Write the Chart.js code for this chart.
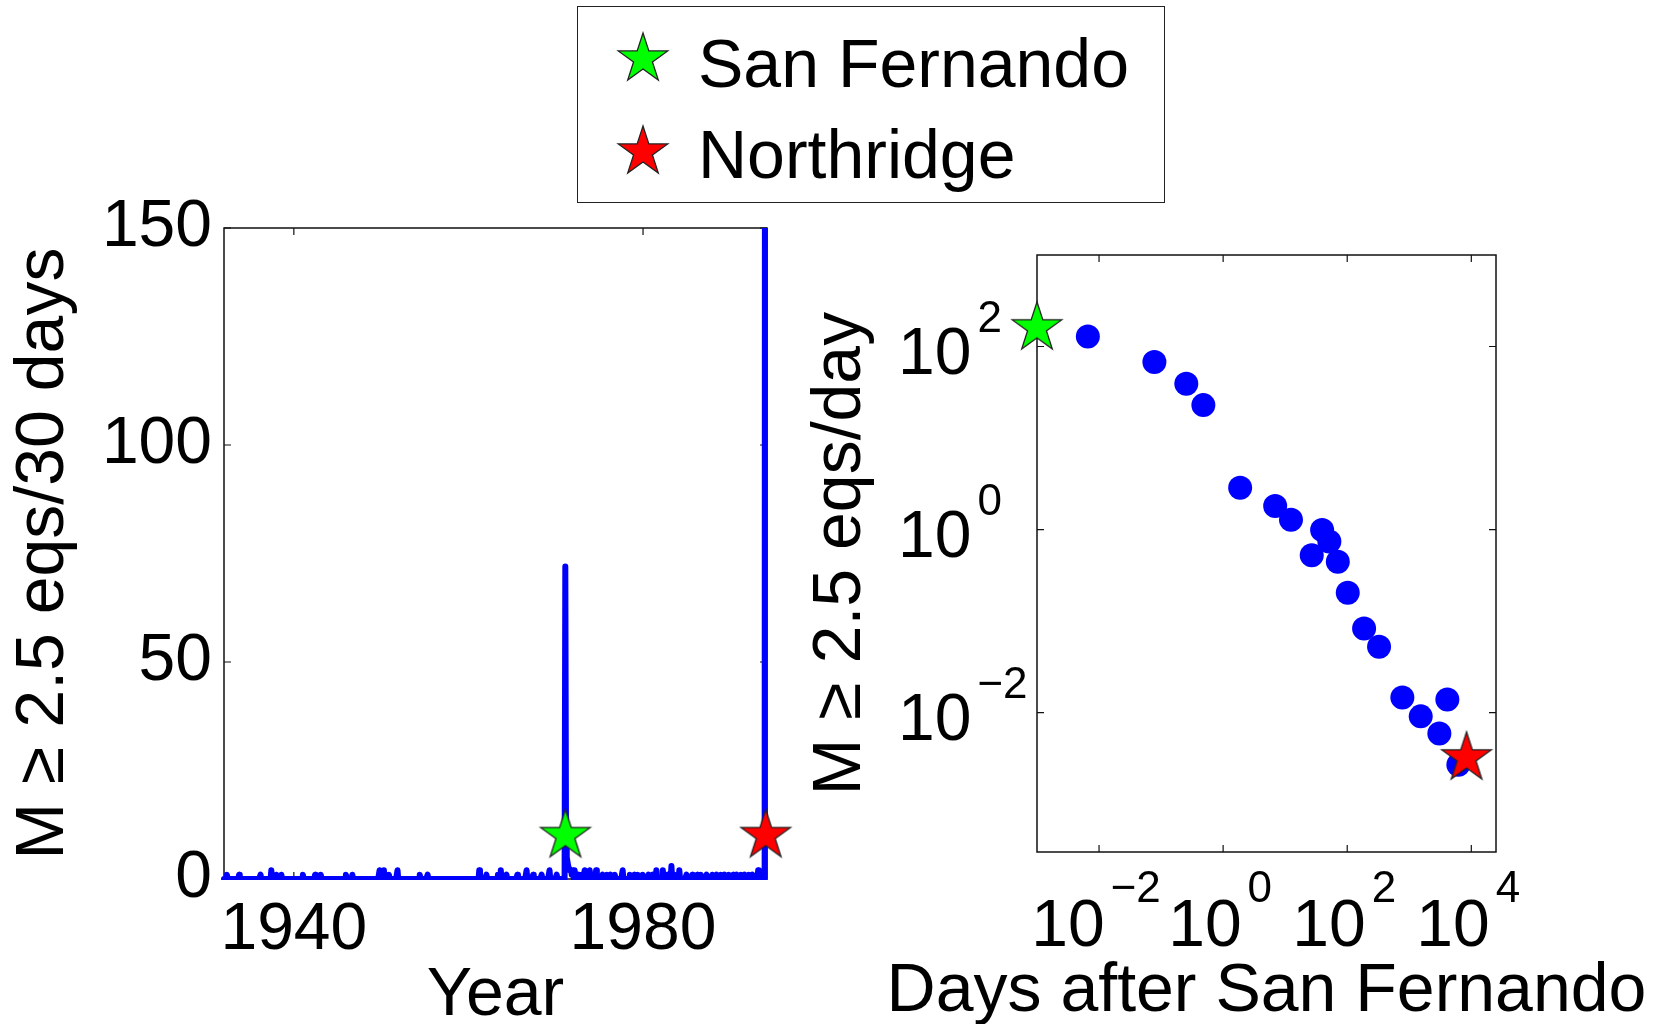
<!DOCTYPE html>
<html>
<head>
<meta charset="utf-8">
<script src="https://cdn.jsdelivr.net/npm/chart.js@4.4.1/dist/chart.umd.min.js"></script>
<style>
  html, body { margin: 0; padding: 0; background: #fff; overflow: hidden; }
  body { width: 1660px; height: 1024px; position: relative; font-family: 'Liberation Sans', Arial, Helvetica, sans-serif; }
  #rateChart { position: absolute; left: 0; top: 183px; }
  #omoriChart { position: absolute; left: 800px; top: 190px; }
  #legend { position: absolute; left: 577px; top: 6px; width: 588px; height: 197px; box-sizing: border-box; border: 1.5px solid #222; }
  .legend-star { position: absolute; }
  .legend-label { position: absolute; font-size: 68px; line-height: 68px; white-space: nowrap; color: #000; }
</style>
</head>
<body>
<div id="legend"></div>
<canvas id="rateChart" width="800" height="841"></canvas>
<canvas id="omoriChart" width="860" height="834"></canvas>
<script>
// left panel: M>=2.5 counts in 30-day bins (only the non-zero bins are listed)
const binStartYear = 1932
const binDays = 30
const quakeYears = [
  1932.3, 1933.7, 1936.2, 1937.4, 1938.0, 1938.6, 1941.0, 1942.4, 1943.1, 1946.0,
  1946.7, 1949.8, 1950.3, 1950.9, 1951.9, 1954.4, 1955.3, 1961.2, 1962.1, 1963.4,
  1963.7, 1964.4, 1965.6, 1966.7, 1967.4, 1968.4, 1969.3, 1970.1,
  1971.11, 1971.19, 1971.27, 1971.36, 1971.44, 1971.52, 1971.60, 1971.68, 1971.77, 1971.85,
  1971.93, 1972.0, 1972.2, 1972.6, 1973.0, 1973.3, 1973.6, 1973.9, 1974.3, 1974.6,
  1975.4, 1975.9, 1976.3, 1976.8, 1977.65, 1978.5, 1979.0, 1979.4, 1980.0, 1980.6,
  1981.0, 1981.55, 1982.3, 1982.8, 1983.26, 1983.6, 1984.13, 1984.98, 1985.6, 1986.2,
  1986.6, 1987.27, 1987.9, 1988.4, 1988.9, 1989.3, 1989.8, 1990.3, 1990.7, 1991.2,
  1991.6, 1992.1, 1992.5, 1993.18, 1993.6, 1994.05
]
const quakeCounts = [
  1, 1, 1, 2, 1, 1, 1, 1, 1, 1,
  1, 2, 2, 1, 2, 1, 1, 2, 1, 1,
  2, 1, 1, 2, 1, 1, 2, 1,
  72, 9, 5, 4, 3, 3, 2, 2, 2, 1,
  1, 1, 2, 1, 1, 2, 1, 2, 1, 2,
  1, 1, 1, 1, 2, 1, 1, 1, 1, 1,
  1, 2, 2, 1, 3, 1, 2, 1, 1, 1,
  1, 1, 1, 1, 1, 1, 1, 1, 1, 1,
  1, 1, 1, 2, 1, 420
]
const eventYears = [1971.11, 1994.05]
const eventLevel = 10
const yearTicks = [1940, 1980]

// right panel: rate after San Fernando
const daysAfter = [0.0066, 0.078, 0.255, 0.48, 1.88, 6.9, 12.4, 26.8, 39.4, 51.5, 70.5, 102, 187, 326, 774, 1530, 3055, 4110, 6180]
const ratePerDay = [129, 67.8, 39.3, 22.9, 2.86, 1.81, 1.28, 0.525, 0.99, 0.74, 0.445, 0.204, 0.083, 0.0524, 0.0146, 0.0091, 0.00593, 0.0139, 0.0027]
const eventDays = [0.001, 8380]
const eventRates = [160, 0.0032]
const dayTicks = [1e-2, 1, 1e2, 1e4]
const rateTicks = [1e-2, 1, 1e2]

const eventNames = ['San Fernando', 'Northridge']
const eventColors = ['#00ff00', '#ff0000']

const FONT = "'Liberation Sans', Arial, Helvetica, sans-serif"
Chart.defaults.font.family = FONT
Chart.defaults.color = '#000'

function starImage(color, r) {
  const size = Math.ceil(2 * r + 4)
  const c = document.createElement('canvas')
  c.width = size
  c.height = size
  const g = c.getContext('2d')
  g.translate(size / 2, size / 2)
  g.beginPath()
  for (let k = 0; k < 10; k++) {
    const rad = k % 2 ? r * 0.382 : r
    const ang = -Math.PI / 2 + k * Math.PI / 5
    g.lineTo(rad * Math.cos(ang), rad * Math.sin(ang))
  }
  g.closePath()
  g.fillStyle = color
  g.fill()
  g.lineWidth = 1.3
  g.strokeStyle = '#222'
  g.stroke()
  return c
}

const stars = eventColors.map(c => starImage(c, 26))

// legend
const legend = document.getElementById('legend')
eventNames.forEach((name, i) => {
  const s = starImage(eventColors[i], 26)
  s.className = 'legend-star'
  s.style.left = (642 - 577 - s.width / 2) + 'px'
  s.style.top = (58 + i * 93 - 6 - s.height / 2) + 'px'
  legend.appendChild(s)
  const label = document.createElement('span')
  label.className = 'legend-label'
  label.textContent = name
  label.style.left = (697 - 577) + 'px'
  label.style.top = (28 + i * 91 - 6) + 'px'
  legend.appendChild(label)
})

// box with inward ticks on all four sides
const frame = {
  id: 'frame',
  beforeDatasetsDraw(chart) {
    const { ctx, chartArea: a, scales: { x, y } } = chart
    ctx.save()
    ctx.strokeStyle = '#111'
    ctx.lineWidth = 1.5
    ctx.strokeRect(a.left, a.top, a.right - a.left, a.bottom - a.top)
    ctx.lineWidth = 1.2
    ctx.beginPath()
    x.ticks.forEach(t => {
      const px = x.getPixelForValue(t.value)
      ctx.moveTo(px, a.bottom); ctx.lineTo(px, a.bottom - 7)
      ctx.moveTo(px, a.top); ctx.lineTo(px, a.top + 7)
    })
    y.ticks.forEach(t => {
      const py = y.getPixelForValue(t.value)
      ctx.moveTo(a.left, py); ctx.lineTo(a.left + 7, py)
      ctx.moveTo(a.right, py); ctx.lineTo(a.right - 7, py)
    })
    ctx.stroke()
    ctx.restore()
  }
}

// 10^n tick labels for the log panel
function expText(v) {
  const e = Math.round(Math.log10(v))
  return e < 0 ? '\u2212' + (-e) : String(e)
}

const powerLabels = {
  id: 'powerLabels',
  afterDraw(chart) {
    const { ctx, chartArea: a, scales: { x, y } } = chart
    const base = '66px ' + FONT
    const sup = '44px ' + FONT
    ctx.save()
    ctx.fillStyle = '#000'
    ctx.textAlign = 'left'
    ctx.textBaseline = 'alphabetic'
    y.ticks.forEach(t => {
      const py = y.getPixelForValue(t.value)
      const left = a.left - 139
      ctx.font = base
      ctx.fillText('10', left, py + 27)
      const w = ctx.measureText('10').width
      ctx.font = sup
      ctx.fillText(expText(t.value), left + w + 6, py - 15)
    })
    x.ticks.forEach(t => {
      const px = x.getPixelForValue(t.value)
      const e = expText(t.value)
      ctx.font = base
      const w1 = ctx.measureText('10').width
      ctx.font = sup
      const w2 = ctx.measureText(e).width
      const left = px - (w1 + 6 + w2) / 2 - 3
      ctx.font = base
      ctx.fillText('10', left, a.bottom + 94)
      ctx.font = sup
      ctx.fillText(e, left + w1 + 6, a.bottom + 94 - 44)
    })
    // x title is wider than the plot, so draw it without Chart.js' maxWidth squeeze
    const title = x.options.title
    ctx.font = '68px ' + FONT
    ctx.textAlign = 'center'
    ctx.textBaseline = 'middle'
    ctx.fillText(title.text, (a.left + a.right) / 2, a.bottom + 140)
    ctx.restore()
  }
}

// left chart
const binYears = binDays / 365.25
const nBins = Math.round((eventYears[1] - binStartYear) / binYears) + 1
const counts = new Array(nBins).fill(0)
quakeYears.forEach((yr, i) => {
  counts[Math.round((yr - binStartYear) / binYears)] = quakeCounts[i]
})
const countSeries = counts.map((c, i) => ({ x: binStartYear + i * binYears, y: c }))

new Chart(document.getElementById('rateChart'), {
  type: 'line',
  data: {
    datasets: [{
      data: eventYears.map(yr => ({ x: yr, y: eventLevel })),
      showLine: false,
      pointStyle: stars,
      pointRadius: 26,
      clip: false,
      order: 0
    }, {
      data: countSeries,
      borderColor: '#0000ff',
      borderWidth: 6,
      pointRadius: 0,
      tension: 0,
      borderJoinStyle: 'round',
      borderCapStyle: 'round',
      clip: { left: 3, top: 0, right: 3, bottom: 1 },
      order: 1
    }]
  },
  options: {
    responsive: false,
    animation: false,
    devicePixelRatio: 1,
    layout: { padding: { left: 0, top: 38, right: 33, bottom: 0 } },
    plugins: { legend: { display: false }, tooltip: { enabled: false } },
    scales: {
      x: {
        type: 'linear',
        min: 1932,
        max: 1994.2,
        grid: { display: false, drawTicks: false },
        border: { display: false },
        afterBuildTicks: s => { s.ticks = yearTicks.map(v => ({ value: v })) },
        afterFit: s => { s.height = 145 },
        ticks: {
          font: { size: 66, lineHeight: 1 },
          color: '#000',
          padding: 19,
          maxRotation: 0,
          autoSkip: false,
          callback: v => String(v)
        },
        title: {
          display: true,
          text: 'Year',
          font: { size: 68, lineHeight: 1 },
          color: '#000',
          padding: { top: 0, bottom: -6 }
        }
      },
      y: {
        min: 0,
        max: 150,
        grid: { display: false, drawTicks: false },
        border: { display: false },
        afterFit: s => { s.width = 224 },
        ticks: {
          stepSize: 50,
          font: { size: 66, lineHeight: 1 },
          color: '#000',
          padding: 12
        },
        title: {
          display: true,
          text: 'M \u2265 2.5 eqs/30 days',
          font: { size: 68 },
          color: '#000',
          padding: { top: 3, bottom: 0 }
        }
      }
    }
  },
  plugins: [frame]
})

// right chart
new Chart(document.getElementById('omoriChart'), {
  type: 'scatter',
  data: {
    datasets: [{
      data: eventDays.map((d, i) => ({ x: d, y: eventRates[i] })),
      pointStyle: stars,
      pointRadius: 26,
      clip: false,
      order: 0
    }, {
      data: daysAfter.map((d, i) => ({ x: d, y: ratePerDay[i] })),
      pointRadius: 12,
      backgroundColor: '#0000ff',
      borderWidth: 0,
      clip: false,
      order: 1
    }]
  },
  options: {
    responsive: false,
    animation: false,
    devicePixelRatio: 1,
    layout: { padding: { left: 0, top: 65, right: 164, bottom: 0 } },
    plugins: { legend: { display: false }, tooltip: { enabled: false } },
    scales: {
      x: {
        type: 'logarithmic',
        min: 0.001,
        max: 25000,
        grid: { display: false, drawTicks: false },
        border: { display: false },
        ticks: { display: false },
        afterBuildTicks: s => { s.ticks = dayTicks.map(v => ({ value: v })) },
        afterFit: s => { s.height = 172 },
        title: { display: false, text: 'Days after San Fernando' }
      },
      y: {
        type: 'logarithmic',
        min: Math.pow(10, -3.5),
        max: 1000,
        grid: { display: false, drawTicks: false },
        border: { display: false },
        ticks: { display: false },
        afterBuildTicks: s => { s.ticks = rateTicks.map(v => ({ value: v })) },
        afterFit: s => { s.width = 237 },
        title: {
          display: true,
          text: 'M \u2265 2.5 eqs/day',
          font: { size: 68 },
          color: '#000',
          padding: { top: 0, bottom: 0 }
        }
      }
    }
  },
  plugins: [frame, powerLabels]
})
</script>
</body>
</html>
